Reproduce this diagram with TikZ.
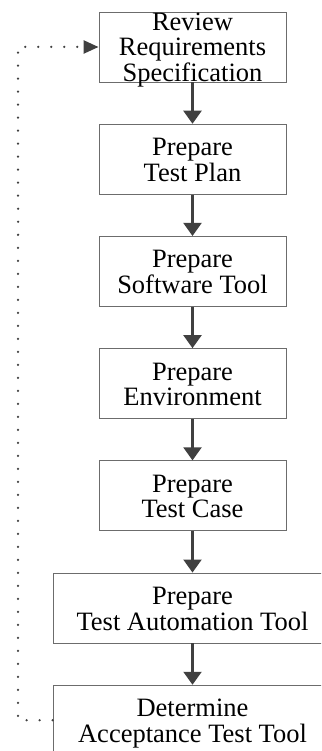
\documentclass[tikz,border=0pt]{standalone}
\usepackage{fontspec}
\setmainfont{Liberation Serif}
\usepackage{tikz}
\usetikzlibrary{arrows.meta}

% text of a step, set a little lower in its box
\newcommand{\steptext}[1]{\raisebox{-10.5pt}[0pt][0pt]{\begin{tabular}{@{}c@{}}#1\end{tabular}}}

\tikzset{
  stepbox/.style={draw=gray!85!black,line width=0.9pt,fill=white,minimum width=187pt,minimum height=70pt,
    inner sep=0pt,font=\fontsize{26.5}{25}\selectfont},
  widebox/.style={stepbox,minimum width=279pt},
  flow/.style={draw=black!75,line width=2.2pt,-{Triangle[length=13pt,width=18pt]}},
  loopback/.style={draw=black!75,line width=2.5pt,line cap=round,dash pattern=on 0pt off 13pt,
    -{Triangle[length=15pt,width=13pt]}}
}

\begin{document}
\begin{tikzpicture}[x=1pt,y=-1pt]
	\clip (0,0) rectangle (321,751);
	
	% Define the steps
	\node[stepbox] (review) at (192.5,47) {\steptext{Review\\Requirements\\Specification}};
	\node[stepbox] (plan) at (192.5,159.2) {\steptext{Prepare\\Test Plan}};
	\node[stepbox] (software) at (192.5,271.4) {\steptext{Prepare\\Software Tool}};
	\node[stepbox] (environment) at (192.5,383.6) {\steptext{Prepare\\Environment}};
	\node[stepbox] (testcase) at (192.5,495.8) {\steptext{Prepare\\Test Case}};
	\node[widebox] (automation) at (192.5,608) {\steptext{Prepare\\Test Automation Tool}};
	\node[widebox] (acceptance) at (192.5,720.2) {\steptext{Determine\\Acceptance Test Tool}};
	
	% Draw the flow between the steps
	\draw[flow] (review) -- (plan);
	\draw[flow] (plan) -- (software);
	\draw[flow] (software) -- (environment);
	\draw[flow] (environment) -- (testcase);
	\draw[flow] (testcase) -- (automation);
	\draw[flow] (automation) -- (acceptance);
	
	% Draw the way back to the start
	\coordinate (bottomleft) at (18,720.2);
	\coordinate (topleft) at (18,47);
	\draw[loopback] (acceptance.west) -- (bottomleft) -- (topleft) -- (review.west);
\end{tikzpicture}
\end{document}
